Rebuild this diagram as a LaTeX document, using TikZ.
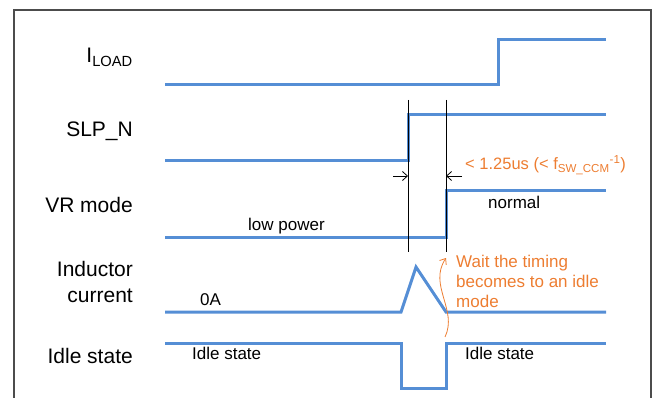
\documentclass[tikz,border=0pt]{standalone}
\usepackage{fontspec}
\setmainfont{Liberation Sans}
\usetikzlibrary{arrows.meta}
\definecolor{sigblue}{RGB}{85,142,213}
\definecolor{noteorange}{RGB}{237,125,49}

\begin{document}
\begin{tikzpicture}[x=1pt, y=-1pt,
    signal/.style={draw=sigblue, line width=3pt},
    siglabel/.style={anchor=base east, inner sep=0pt, align=right,
                     font=\fontsize{21}{26}\selectfont},
    statetext/.style={anchor=base west, inner sep=0pt,
                      font=\fontsize{17}{20}\selectfont},
    note/.style={anchor=base west, inner sep=0pt, align=left, text=noteorange,
                 font=\fontsize{17}{20}\selectfont},
    marker/.style={draw=black, line width=0.8pt},
    dimarrow/.style={-{Straight Barb[length=5pt, width=9pt]}, line width=0.8pt}
  ]
  \useasboundingbox (0,0) rectangle (658,398);
  \draw[black!70, line width=1.2pt] (14,398) -- (14,10) -- (651,10) -- (651,398);

  % signal names
  \node[siglabel] (iload) at (133,63) {I\textsubscript{LOAD}};
  \node[siglabel] (slpn) at (133,137) {SLP\_N};
  \node[siglabel] (vrmode) at (133,212) {VR mode};
  \node[siglabel] (indcur) at (133,302) {Inductor\\current};
  \node[siglabel] (idle) at (133,363) {Idle state};

  % waveforms
  \draw[signal] (165,85) -- (498,85) -- (498,40) -- (606,40);
  \draw[signal] (165,161) -- (408,161) -- (408,115) -- (606,115);
  \draw[signal] (165,237) -- (446,237) -- (446,191) -- (606,191);
  \draw[signal] (165,312) -- (401,312) -- (416,267) -- (446,312) -- (606,312);
  \draw[signal] (165,343) -- (401,343) -- (401,388) -- (446,388) -- (446,343) -- (606,343);

  % timing markers
  \coordinate (sleepedge) at (408,100);
  \coordinate (modeedge) at (446,100);
  \coordinate (sleepfoot) at (408,252);
  \coordinate (modefoot) at (446,252);
  \draw[marker] (sleepedge) -- (sleepfoot);
  \draw[marker] (modeedge) -- (modefoot);
  \coordinate (dimleft) at (393,176);
  \coordinate (dimright) at (462,176);
  \draw[dimarrow] (dimleft) -- (sleepedge |- dimleft);
  \draw[dimarrow] (dimright) -- (modeedge |- dimright);

  % state texts
  \node[statetext] (lowpower) at (248,230) {low power};
  \node[statetext] (normal) at (488,208) {normal};
  \node[statetext] (zeroamp) at (200,305) {0A};
  \node[statetext] (idleleft) at (192,359) {Idle state};
  \node[statetext] (idleright) at (465,359) {Idle state};

  % notes
  \node[note, font=\fontsize{16.5}{20}\selectfont] (timing) at (465,170)
    {< 1.25us (< f\textsubscript{SW\_CCM}\textsuperscript{-1})};
  \node[note] (waitnote) at (456,307) {Wait the timing\\becomes to an idle\\mode};
  \coordinate (waitfrom) at (445,337);
  \coordinate (waitto) at (446,258);
  \draw[noteorange, line width=0.8pt, -{Straight Barb[length=5pt, width=8pt]}]
    (waitfrom) .. controls (458,310) and (428,285) .. (waitto);
\end{tikzpicture}
\end{document}
